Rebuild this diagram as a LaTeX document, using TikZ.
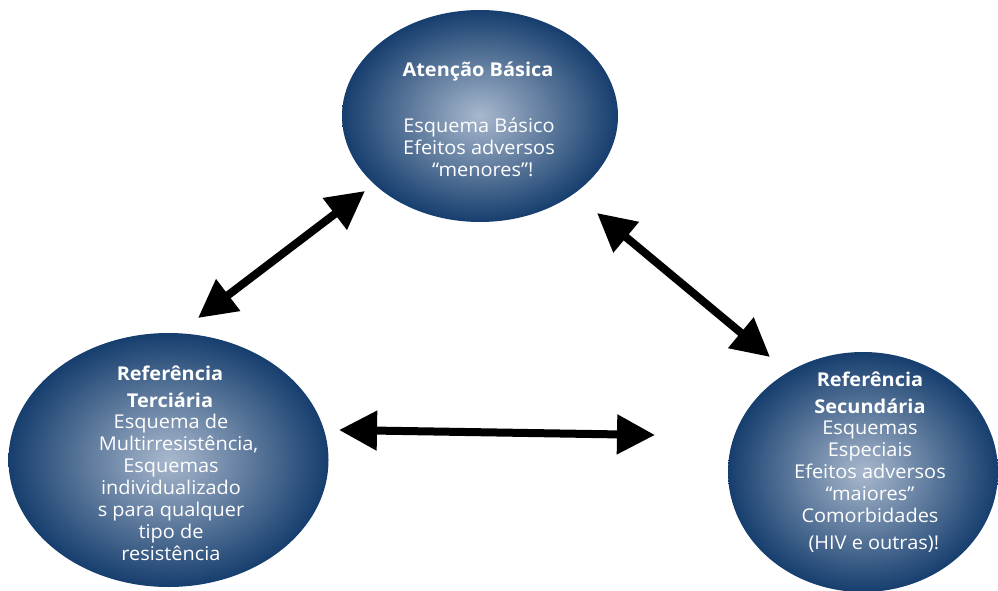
\documentclass[tikz,border=0pt]{standalone}
\usepackage{fontspec}
\setmainfont{Open Sans}[FakeStretch=1.05]
\usetikzlibrary{shapes.geometric,arrows.meta}
\definecolor{balllight}{RGB}{168,184,205}
\definecolor{balldark}{RGB}{22,62,110}
\pgfdeclareradialshading{navyball}{\pgfpoint{0bp}{0bp}}{color(0bp)=(balllight); color(25bp)=(balldark); color(50bp)=(balldark)}
\tikzset{
  bubble/.style={ellipse, inner sep=0pt, shading=navyball},
  ttl/.style={text=white, align=center, font=\fontsize{19}{27}\selectfont\bfseries},
  body/.style={text=white, align=center, font=\fontsize{19}{22}\selectfont},
  dblarrow/.style={line width=8pt, {Triangle[length=38pt,width=38pt]}-{Triangle[length=38pt,width=38pt]}}
}
\begin{document}
\begin{tikzpicture}[x=1pt,y=-1pt]
\path[use as bounding box] (0,0) rectangle (998,591);
\node[bubble, minimum width=276pt, minimum height=212pt] (top) at (480,116) {};
\node[bubble, minimum width=320pt, minimum height=254pt] (left) at (168.5,460) {};
\node[bubble, minimum width=270pt, minimum height=240pt] (right) at (863,472) {};
\node[ttl] (toptitle) at (478,72) {Atenção Básica};
\node[body] (topbody) at (479,147.5) {Esquema Básico\\Efeitos adversos\\\hspace*{0.4em}“menores”!};
\node[ttl] (lefttitle) at (170,386.5) {Referência\\Terciária};
\node[body] (leftbody) at (171,487) {Esquema de\\\hspace*{0.8em}Multirresistência,\\Esquemas\\individualizado\\s para qualquer\\tipo de\\resistência};
\node[ttl] (righttitle) at (870,392.5) {Referência\\Secundária};
\node[body] (rightbody) at (870,487) {Esquemas\\Especiais\\Efeitos adversos\\“maiores”\\Comorbidades\\[5pt]\hspace*{0.4em}(HIV e outras)!};
\coordinate (a1) at (198,318);
\coordinate (a2) at (365,191);
\coordinate (b1) at (597,213);
\coordinate (b2) at (770,357);
\coordinate (c1) at (339,430);
\coordinate (c2) at (655,435);
\draw[dblarrow] (a1) -- (a2);
\draw[dblarrow] (b1) -- (b2);
\draw[dblarrow] (c1) -- (c2);
\end{tikzpicture}
\end{document}
